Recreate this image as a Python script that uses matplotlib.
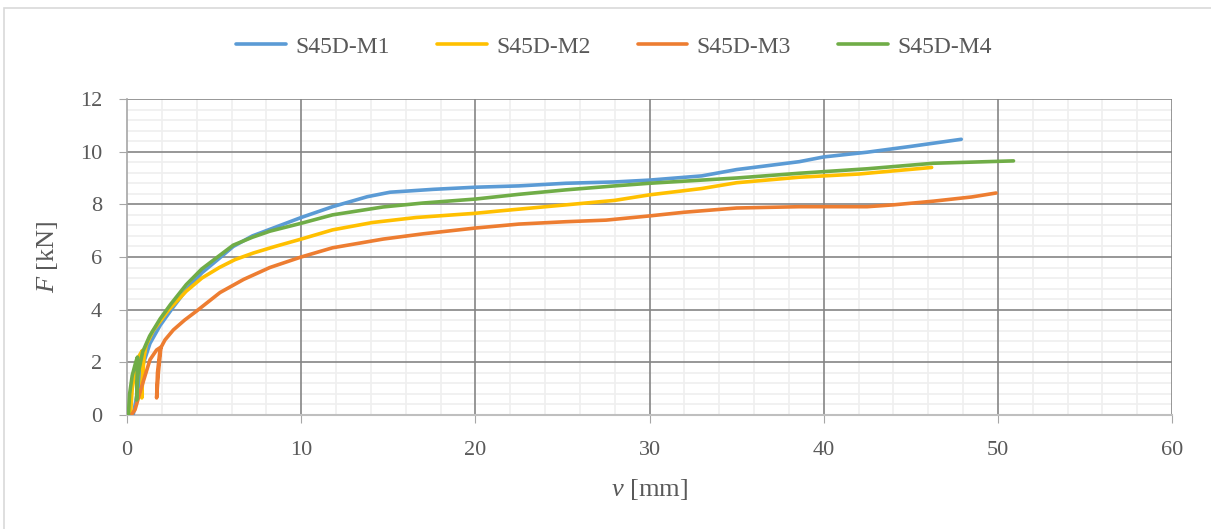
import numpy as np
import matplotlib
matplotlib.use("Agg")
import matplotlib.pyplot as plt
from matplotlib.patches import Rectangle

# data: v [mm], F [kN]
m1_v = [0.35, 0.5, 0.65, 0.94, 1.32, 1.9, 2.6, 3.4, 4.3, 5.3, 6.1, 7.2, 8.2, 10.0, 11.8, 13.8, 15.1,
        17.6, 20.0, 22.5, 25.2, 28.0, 30.0, 33.0, 35.0, 38.6, 40.0, 42.5, 45.0, 47.9]
m1_F = [0.0, 0.5, 1.07, 1.96, 2.72, 3.4, 4.05, 4.75, 5.4, 5.95, 6.4, 6.8, 7.05, 7.5, 7.91, 8.29, 8.46,
        8.57, 8.65, 8.7, 8.8, 8.85, 8.92, 9.08, 9.32, 9.62, 9.8, 9.98, 10.2, 10.47]

m2_v = [0.2, 0.3, 0.5, 0.7, 0.88, 0.9, 0.85, 0.9, 0.98, 1.1, 1.5, 2.4, 3.4, 4.3, 5.3, 6.2, 7.25,
        8.5, 10.0, 11.8, 14.1, 16.6, 20.0, 21.4, 25.2, 28.0, 30.0, 33.0, 35.0, 38.6, 42.0, 46.2]
m2_F = [0.0, 1.0, 1.8, 2.25, 2.45, 1.6, 0.65, 1.5, 2.2, 2.65, 3.2, 4.0, 4.7, 5.2, 5.6, 5.9, 6.15,
        6.4, 6.68, 7.03, 7.31, 7.5, 7.66, 7.75, 7.98, 8.15, 8.36, 8.6, 8.82, 9.03, 9.15, 9.4]

m3_v = [0.25, 0.46, 0.84, 1.32, 1.7, 1.95, 1.8, 1.7, 1.75, 1.9, 2.18, 2.66, 3.3, 4.0, 5.34, 6.7,
        8.2, 10.0, 11.8, 14.7, 17.0, 20.0, 22.5, 25.2, 27.5, 30.0, 32.0, 35.0, 38.6, 42.5, 44.0,
        46.3, 48.5, 49.9]
m3_F = [0.0, 0.2, 1.07, 2.1, 2.47, 2.58, 1.6, 0.65, 1.6, 2.5, 2.85, 3.23, 3.6, 3.95, 4.65, 5.15,
        5.6, 6.0, 6.35, 6.68, 6.88, 7.1, 7.25, 7.34, 7.4, 7.56, 7.7, 7.86, 7.91, 7.91, 7.98,
        8.12, 8.28, 8.43]

m4_v = [0.08, 0.15, 0.3, 0.5, 0.6, 0.58, 0.55, 0.62, 0.9, 1.3, 1.9, 2.5, 3.4, 4.3, 5.3, 6.1, 7.2,
        8.2, 10.0, 11.8, 14.7, 17.0, 20.0, 22.5, 25.2, 28.0, 30.0, 35.0, 38.6, 42.5, 46.3, 50.9]
m4_F = [0.0, 0.8, 1.5, 2.0, 2.2, 1.3, 0.57, 1.5, 2.4, 3.0, 3.65, 4.2, 4.95, 5.55, 6.05, 6.45, 6.75,
        6.98, 7.28, 7.6, 7.9, 8.05, 8.2, 8.38, 8.55, 8.7, 8.8, 9.0, 9.18, 9.35, 9.56, 9.65]

names = ["S45D-M1", "S45D-M2", "S45D-M3", "S45D-M4"]
colors = ["#5B9BD5", "#FFC000", "#ED7D31", "#70AD47"]

x_major = np.arange(0, 61, 10)
y_major = np.arange(0, 13, 2)

plt.rcParams["font.family"] = ["Liberation Serif", "DejaVu Serif"]
plt.rcParams["mathtext.fontset"] = "custom"
plt.rcParams["mathtext.it"] = "Liberation Serif:italic"
plt.rcParams["mathtext.rm"] = "Liberation Serif"

fig = plt.figure(figsize=(12.11, 5.29), dpi=100)
ax = fig.add_axes([127 / 1211, 1 - 415 / 529, (1172 - 127) / 1211, (415 - 99) / 529])

fig.patches.append(Rectangle((4 / 1211, -0.01), 1.0, 1 - 8 / 529 + 0.01, transform=fig.transFigure,
                             fill=False, edgecolor="#d9d9d9", linewidth=1.2))

series = [(m1_v, m1_F), (m2_v, m2_F), (m3_v, m3_F), (m4_v, m4_F)]
for (v, F), name, c in zip(series, names, colors):
    ax.plot(v, F, color=c, linewidth=2.6, label=name, solid_capstyle="round", solid_joinstyle="round",
            zorder=3)

ax.set_xlim(0, 60)
ax.set_ylim(0, 12)
ax.set_xticks(x_major)
ax.set_yticks(y_major)
xminor = [x for x in range(0, 61, 2) if x % 10 != 0]
yminor = [round(y, 1) for y in np.arange(0.4, 12, 0.4) if abs(y / 2 - round(y / 2)) > 0.01]
ax.set_xticks(xminor, minor=True)
ax.set_yticks(yminor, minor=True)
ax.grid(which="minor", color="#efefef", linewidth=1.2)
ax.set_axisbelow(True)
# major grid drawn separately so it sits over the light minor grid
for x in x_major[1:]:
    ax.axvline(x, color="#858585", linewidth=1.2, zorder=1)
for y in y_major[1:]:
    ax.axhline(y, color="#858585", linewidth=1.2, zorder=1)

for s in ["top", "right"]:
    ax.spines[s].set_visible(False)
ax.spines["left"].set_color("#a6a6a6")
ax.spines["bottom"].set_color("#bfbfbf")
ax.spines["left"].set_linewidth(1.2)
ax.spines["bottom"].set_linewidth(1.5)
ax.spines["left"].set_zorder(2)
ax.spines["bottom"].set_zorder(2)
ax.tick_params(which="major", direction="out", length=6, color="#a6a6a6", labelsize=16,
               labelcolor="#595959")
ax.tick_params(axis="x", pad=13)
ax.tick_params(axis="y", pad=12)
ax.tick_params(which="minor", length=0)

ax.set_xlabel(r"$v$ [mm]", fontsize=19, color="#595959", labelpad=12)
ax.set_ylabel(r"$F$ [kN]", fontsize=19, color="#595959", labelpad=14)

ax.legend(loc="center", bbox_to_anchor=(0.507, 1 - 47 / 529), bbox_transform=fig.transFigure,
          ncol=4, frameon=False, fontsize=17, handlelength=2.1, columnspacing=2.0,
          handletextpad=0.4, labelcolor="#595959")

fig.savefig("out.png", dpi=100)
